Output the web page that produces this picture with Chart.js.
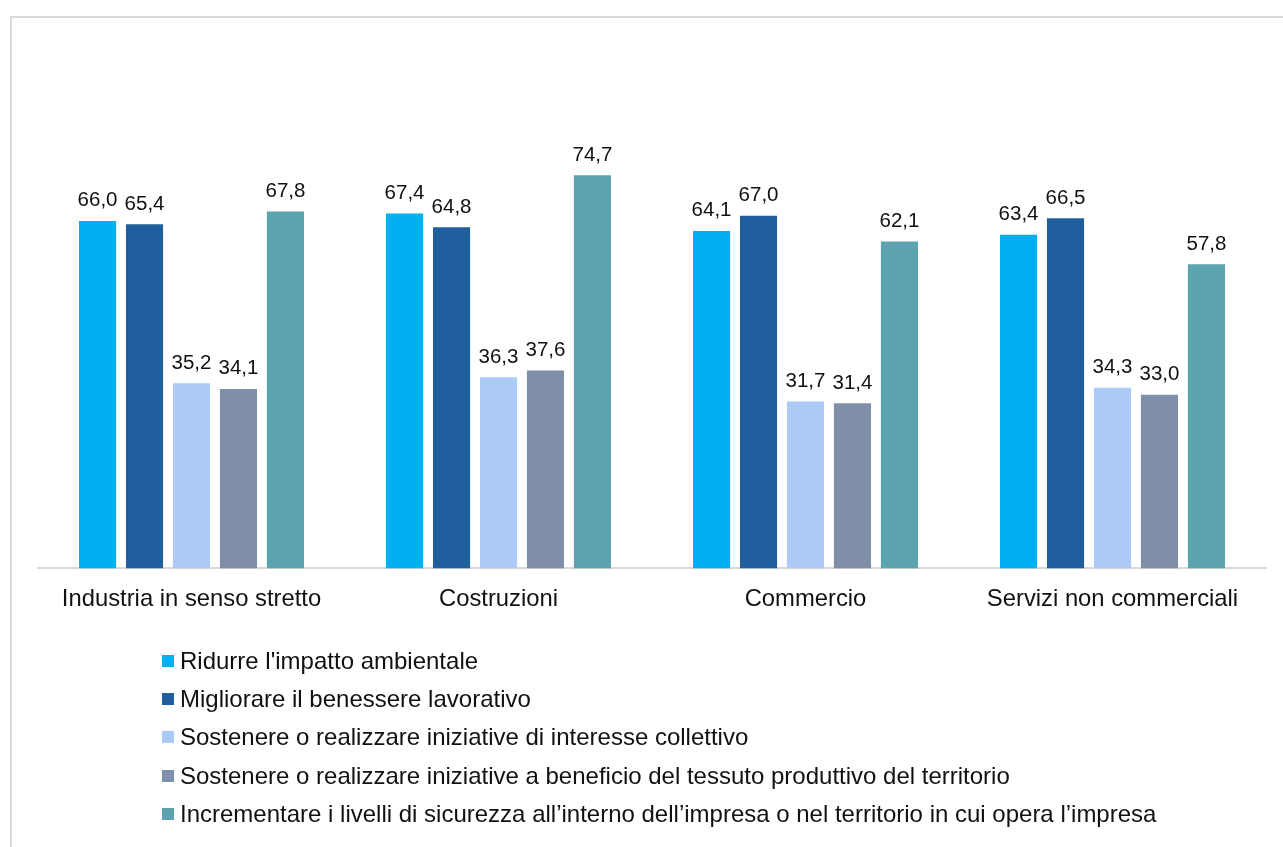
<!DOCTYPE html>
<html>
<head>
<meta charset="utf-8">
<script src="https://cdn.jsdelivr.net/npm/chart.js@4/dist/chart.umd.min.js"></script>
<style>
  html, body { margin: 0; padding: 0; background: #fff; }
  body { width: 1283px; height: 847px; position: relative; overflow: hidden; font-family: "Liberation Sans", Arial, sans-serif; }
  #frame { position: absolute; left: 10px; top: 16px; width: 1300px; height: 900px; border-left: 2px solid #dadada; border-top: 2px solid #dadada; }
  #wrap { position: absolute; left: 0; top: 0; width: 1283px; height: 847px; }
  #legend { position: absolute; left: 162px; top: 642px; }
  #legend div { height: 38.2px; display: flex; align-items: center; font-size: 24px; color: #111; white-space: nowrap; }
  #legend span.box { display: inline-block; width: 12px; height: 12px; margin: 0 6px 0 0; }
</style>
</head>
<body>
<div id="frame"></div>
<div id="wrap"><canvas id="chart" width="1283" height="847"></canvas></div>
<div id="legend"></div>
<script>
var categories = ["Industria in senso stretto", "Costruzioni", "Commercio", "Servizi non commerciali"];
var seriesNames = [
  "Ridurre l'impatto ambientale",
  "Migliorare il benessere lavorativo",
  "Sostenere o realizzare iniziative di interesse collettivo",
  "Sostenere o realizzare iniziative a beneficio del tessuto produttivo del territorio",
  "Incrementare i livelli di sicurezza all\u2019interno dell\u2019impresa o nel territorio in cui opera l\u2019impresa"
];
var colors = ["#00b0f0", "#1f5f9e", "#abcaf5", "#7f8fa9", "#5ba3ae"];
var ridurre = [66.0, 67.4, 64.1, 63.4];
var migliorare = [65.4, 64.8, 67.0, 66.5];
var interesseCollettivo = [35.2, 36.3, 31.7, 34.3];
var tessutoProduttivo = [34.1, 37.6, 31.4, 33.0];
var sicurezza = [67.8, 74.7, 62.1, 57.8];
var seriesValues = [ridurre, migliorare, interesseCollettivo, tessutoProduttivo, sicurezza];

var datasets = seriesNames.map(function (name, i) {
  return {
    label: name,
    data: seriesValues[i],
    backgroundColor: colors[i],
    categoryPercentage: 0.765,
    barPercentage: 0.79
  };
});

var valueLabels = {
  id: 'valueLabels',
  afterDatasetsDraw: function (chart) {
    var ctx = chart.ctx;
    ctx.save();
    ctx.font = '20.5px "Liberation Sans", Arial, sans-serif';
    ctx.fillStyle = '#111';
    ctx.textAlign = 'center';
    ctx.textBaseline = 'bottom';
    chart.data.datasets.forEach(function (ds, i) {
      chart.getDatasetMeta(i).data.forEach(function (bar, j) {
        ctx.fillText(ds.data[j].toFixed(1).replace('.', ','), bar.x, bar.y - 10);
      });
    });
    ctx.restore();
  }
};

new Chart(document.getElementById('chart'), {
  type: 'bar',
  data: { labels: categories, datasets: datasets },
  options: {
    responsive: false,
    animation: false,
    layout: { padding: { left: 38, right: 17, top: 42, bottom: 216 } },
    plugins: { legend: { display: false }, tooltip: { enabled: false } },
    scales: {
      x: {
        grid: { display: false, drawTicks: false },
        border: { color: '#d9d9d9', width: 2 },
        ticks: { color: '#111', font: { size: 23.8, family: '"Liberation Sans", Arial, sans-serif' }, padding: 17 }
      },
      y: { display: false, min: 0, max: 100 }
    }
  },
  plugins: [valueLabels]
});

var legend = document.getElementById('legend');
seriesNames.forEach(function (name, i) {
  var row = document.createElement('div');
  var box = document.createElement('span');
  box.className = 'box';
  box.style.background = colors[i];
  row.appendChild(box);
  row.appendChild(document.createTextNode(name));
  legend.appendChild(row);
});
</script>
</body>
</html>
